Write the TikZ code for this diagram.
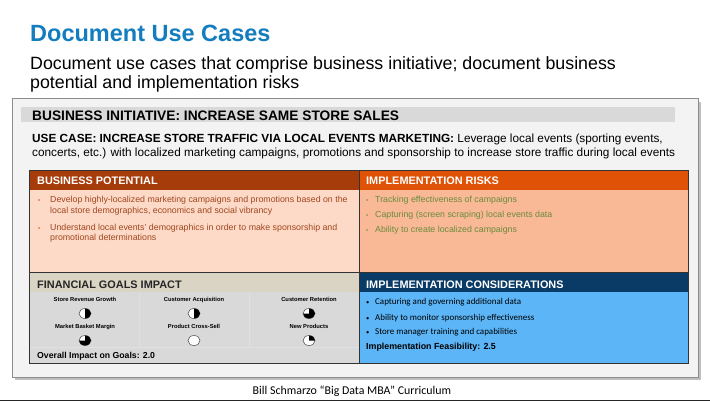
\documentclass[tikz,border=0pt]{standalone}
\usepackage{fontspec}
\setmainfont{Liberation Sans}
\newfontfamily\calibri{Carlito}
\usetikzlibrary{positioning}

\definecolor{titleblue}{RGB}{20,125,190}
\definecolor{panelgray}{RGB}{243,243,243}
\definecolor{bargray}{RGB}{217,217,217}
\definecolor{potdark}{RGB}{166,60,10}
\definecolor{potlight}{RGB}{253,218,200}
\definecolor{pottext}{RGB}{160,70,30}
\definecolor{riskdark}{RGB}{224,82,6}
\definecolor{risklight}{RGB}{249,184,150}
\definecolor{risktext}{RGB}{105,140,60}
\definecolor{findark}{RGB}{217,212,196}
\definecolor{finlight}{RGB}{217,217,217}
\definecolor{consdark}{RGB}{10,58,102}
\definecolor{conslight}{RGB}{91,181,247}

\tikzset{
  txt/.style={anchor=base west, inner sep=0pt},
  hdr/.style={txt, text=white, font=\bfseries\fontsize{10.9}{12}\selectfont},
  bul/.style={txt, align=left, font=\fontsize{8.8}{10.5}\selectfont},
  goal/.style={anchor=base, inner sep=0pt, font=\bfseries\fontsize{5.8}{6}\selectfont},
  ball/.style={draw=black!70, line width=0.5pt, fill=white}
}

\begin{document}
\begin{tikzpicture}[x=1pt, y=-1pt]
\useasboundingbox (0,0) rectangle (710,401);
\fill[white] (0,0) rectangle (710,401);
\fill[black!85] (0,399.5) rectangle (710,401);

\node[txt, text=titleblue, font=\bfseries\fontsize{23.5}{26}\selectfont] (title) at (30,42) {Document Use Cases};
\node[txt, font=\fontsize{17.8}{20}\selectfont] (sub1) at (30,70) {Document use cases that comprise business initiative; document business};
\node[txt, font=\fontsize{17.8}{20}\selectfont] (sub2) at (30,89) {potential and implementation risks};

\fill[black!25] (15,102) rectangle (701,380);
\draw[fill=panelgray, draw=black!45] (12,98.5) rectangle (698.5,377);
\fill[bargray] (21,107) rectangle (675,122.5);

\node[txt, font=\bfseries\fontsize{13.75}{15}\selectfont] (initiative) at (32,121) {BUSINESS INITIATIVE: INCREASE SAME STORE SALES};
\node[txt, font=\fontsize{11.8}{13}\selectfont] (usecase1) at (32,143) {\textbf{USE CASE: INCREASE STORE TRAFFIC VIA LOCAL EVENTS MARKETING:} Leverage local events (sporting events,};
\node[txt, font=\fontsize{11.8}{13}\selectfont] (usecase2) at (32,157) {concerts, etc.) with localized marketing campaigns, promotions and sponsorship to increase store traffic during local events};

\fill[potdark] (29,170.5) rectangle (359,190);
\fill[potlight] (29,190) rectangle (359,272);
\fill[riskdark] (359,170.5) rectangle (688.5,190);
\fill[risklight] (359,190) rectangle (688.5,272);
\fill[findark] (29,272) rectangle (359,292);
\fill[finlight] (29,292) rectangle (359,363.5);
\fill[consdark] (359,272) rectangle (688.5,292);
\fill[conslight] (359,292) rectangle (688.5,363.5);

\draw[white!88!black, line width=0.6pt] (29,347) -- (359,347);
\draw[white!88!black, line width=0.6pt] (139,292) -- (139,347);
\draw[white!88!black, line width=0.6pt] (249,292) -- (249,347);

\draw[black!80, line width=0.6pt] (29,170.5) rectangle (688.5,363.5);
\draw[black!80, line width=0.6pt] (359,170.5) -- (359,363.5);
\draw[black!80, line width=0.6pt] (29,272) -- (688.5,272);

\node[hdr] (pothead) at (37,185) {BUSINESS POTENTIAL};
\node[hdr] (riskhead) at (366,185) {IMPLEMENTATION RISKS};
\node[hdr, text=black!85] (finhead) at (37,288) {FINANCIAL GOALS IMPACT};
\node[hdr] (conshead) at (366,288) {IMPLEMENTATION CONSIDERATIONS};

\node[bul, text=riskdark, font=\fontsize{6}{8}\selectfont] (potdot1) at (38,203) {\textbullet};
\node[bul, text=pottext] (pot1) at (50,213.5) {Develop highly-localized marketing campaigns and promotions based on the\\local store demographics, economics and social vibrancy};
\node[bul, text=riskdark, font=\fontsize{6}{8}\selectfont] (potdot2) at (38,230) {\textbullet};
\node[bul, text=pottext] (pot2) at (50,240.5) {Understand local events' demographics in order to make sponsorship and\\promotional determinations};

\foreach \y/\t [count=\i] in {203/{Tracking effectiveness of campaigns}, 218/{Capturing (screen scraping) local events data}, 233/{Ability to create localized campaigns}} {
  \node[bul, text=risktext, font=\fontsize{6}{8}\selectfont] (riskdot\i) at (366,\y) {\textbullet};
  \node[bul, text=risktext] (risk\i) at (375,\y) {\t};
}

\foreach \y/\t [count=\i] in {304/{Capturing and governing additional data}, 320/{Ability to monitor sponsorship effectiveness}, 334/{Store manager training and capabilities}} {
  \node[bul, font=\calibri\fontsize{6.5}{8}\selectfont] (consdot\i) at (366,\y) {\textbullet};
  \node[bul, font=\calibri\fontsize{8.95}{10}\selectfont] (cons\i) at (375,\y) {\t};
}
\node[txt, font=\bfseries\fontsize{8.85}{10}\selectfont] (feasibility) at (366,349) {Implementation Feasibility: 2.5};

\foreach \x/\y/\f/\t [count=\i] in {85/301/0.5/{Store Revenue Growth}, 194/301/0.5/{Customer Acquisition}, 309/301/0.75/{Customer Retention}, 85/328/0.75/{Market Basket Margin}, 194/328/0/{Product Cross-Sell}, 309/328/0.25/{New Products}} {
  \node[goal] (goal\i) at (\x,\y) {\t};
  \draw[ball] (\x,\y+12.5) ellipse [x radius=6, y radius=5];
  \ifdim \f pt>0pt
    \fill (\x,\y+12.5) -- ++(0,-5) arc[start angle=-90, delta angle=360*\f, x radius=6, y radius=5] -- cycle;
  \fi
}
\node[txt, font=\bfseries\fontsize{8.7}{10}\selectfont] (overall) at (37,358) {Overall Impact on Goals: 2.0};

\node[anchor=base, inner sep=0pt, font=\calibri\fontsize{11.9}{13}\selectfont] (footer) at (352,394) {Bill Schmarzo “Big Data MBA” Curriculum};

\end{tikzpicture}
\end{document}
